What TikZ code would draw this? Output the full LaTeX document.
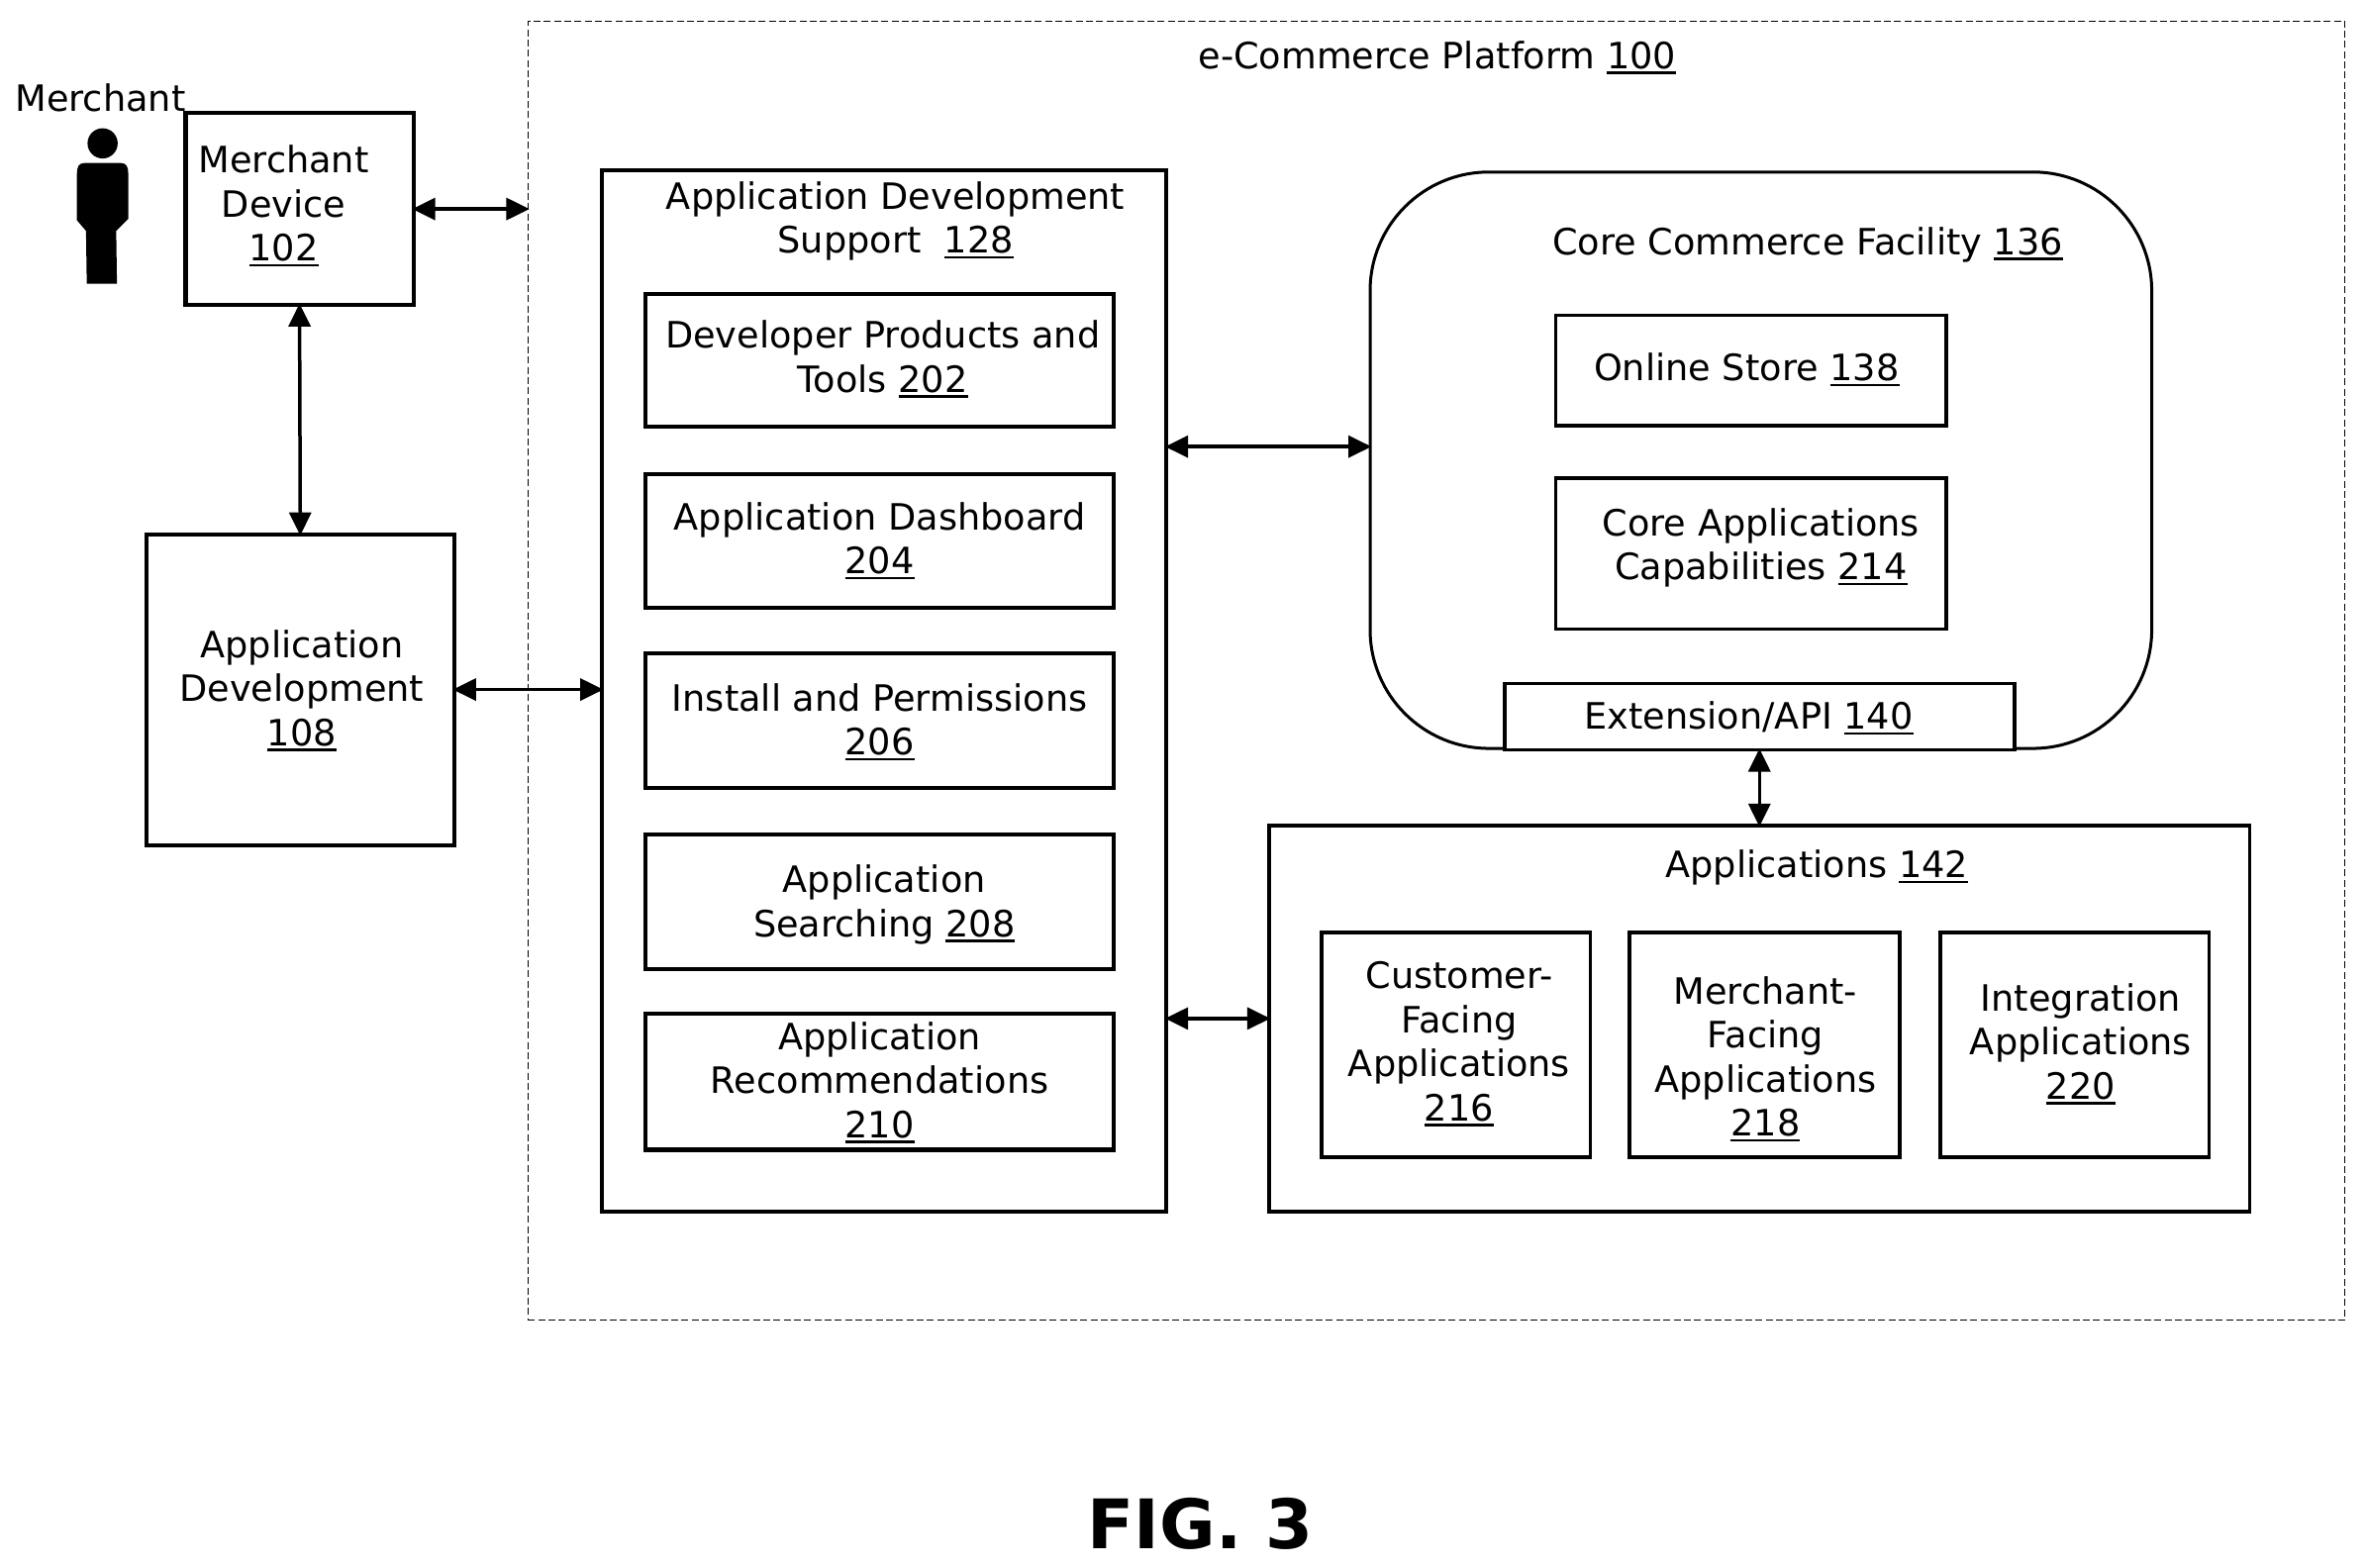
\documentclass[tikz,border=0pt]{standalone}
\usepackage{fontspec}
\setmainfont{DejaVu Sans}
\usetikzlibrary{arrows.meta}
\newcommand\num[1]{\leavevmode\setbox0\hbox{#1}\rlap{\vrule width\wd0 height -0.9pt depth 1.65pt}\box0}
\tikzset{
  x=0.45727pt,y=-0.45727pt,
  boxbase/.style={draw=black,fill=white,inner sep=0pt,outer sep=0pt},
  heavy/.style={boxbase,line width=1.25pt},
  medium/.style={boxbase,line width=1.1pt},
  label/.style={font=\fontsize{11}{13.35}\selectfont,align=center,inner sep=0pt,text=black,yshift=-0.68pt},
  link/.style={line width=1.05pt,shorten <=-0.4pt,shorten >=-0.4pt,{Triangle[length=7pt,width=6.6pt]}-{Triangle[length=7pt,width=6.6pt]}},
}
% name, x1, y1, x2, y2, style
\newcommand\boxat[6]{%
  \pgfmathsetlengthmacro\bw{(#4-#2)*0.45727pt}%
  \pgfmathsetlengthmacro\bh{(#5-#3)*0.45727pt}%
  \pgfmathsetmacro\cx{(#2+#4)/2}%
  \pgfmathsetmacro\cy{(#3+#5)/2}%
  \node[#6,minimum width=\bw,minimum height=\bh] (#1) at (\cx,\cy) {};%
}
\begin{document}
\begin{tikzpicture}
\useasboundingbox (0,0) rectangle (1568,1039.2);
\fill[white] (0,0) rectangle (1568,1039.2);
% platform
\boxat{plat}{350}{14}{1554}{875}{draw=black,line width=0.45pt,dash pattern=on 2.1pt off 1pt,inner sep=0pt,outer sep=0pt}
\node[label] (platT) at (952.5,36.5) {e-Commerce Platform \num{100}};
% merchant
\node[label] (merchT) at (66.5,63.5) {Merchant};
\fill[black] (68,95) circle (10);
\fill[black] (56,108) -- (80,108) .. controls (84,108) and (85,111) .. (85,115)
  -- (85,145) -- (77,153) -- (77.5,188) -- (57.5,188) -- (57,153) -- (51,146) -- (51,115)
  .. controls (51,111) and (52,108) .. (56,108) -- cycle;
\boxat{md}{123}{75}{274}{202}{heavy}
\node[label] (mdT) at (188,135) {Merchant\\Device\\\num{102}};
\boxat{appdev}{97}{354}{301}{560}{heavy}
\node[label] (appdevT) at (200,456) {Application\\Development\\\num{108}};
% support
\boxat{ads}{399}{113}{773}{803}{heavy}
\node[label] (adsT) at (593.5,145) {Application Development\\Support\ \ \num{128}};
\boxat{b202}{428}{195}{738}{283}{heavy}
\node[label] (b202T) at (585,236.5) {Developer Products and\\Tools \num{202}};
\boxat{b204}{428}{314}{738}{403}{heavy}
\node[label] (b204T) at (583,357) {Application Dashboard\\\num{204}};
\boxat{b206}{428}{433}{738}{522}{heavy}
\node[label] (b206T) at (583,477) {Install and Permissions\\\num{206}};
\boxat{b208}{428}{553}{738}{642}{heavy}
\node[label] (b208T) at (586,598) {Application\\Searching \num{208}};
\boxat{b210}{428}{672}{738}{762}{heavy}
\node[label] (b210T) at (583,716) {Application\\Recommendations\\\num{210}};
% core
\boxat{core}{908}{114}{1426}{496}{boxbase,line width=0.9pt,rounded corners=36pt}
\node[label] (coreT) at (1198,160.5) {Core Commerce Facility \num{136}};
\boxat{online}{1031}{209}{1290}{282}{medium}
\node[label] (onlineT) at (1157.5,243.5) {Online Store \num{138}};
\boxat{capab}{1031}{317}{1290}{417}{medium}
\node[label] (capabT) at (1167,361.5) {Core Applications\\Capabilities \num{214}};
\boxat{ext}{997}{453}{1335}{497}{medium}
\node[label] (extT) at (1159,474.5) {Extension/API \num{140}};
% applications
\boxat{apps}{841}{547}{1491}{803}{medium}
\node[label] (appsT) at (1204,573.5) {Applications \num{142}};
\boxat{a216}{876}{618}{1054}{767}{medium}
\node[label] (a216T) at (967,690.5) {Customer-\\Facing\\Applications\\\num{216}};
\boxat{a218}{1080}{618}{1259}{767}{medium}
\node[label] (a218T) at (1170,700.5) {Merchant-\\Facing\\Applications\\\num{218}};
\boxat{a220}{1286}{618}{1464}{767}{medium}
\node[label] (a220T) at (1379,690.5) {Integration\\Applications\\\num{220}};
% connectors
\coordinate (yA) at (840,296);
\coordinate (yB) at (806,675);
\draw[link] (md.east) -- (plat.west |- md.east);
\draw[link] (md.south) -- (appdev.north);
\draw[link] (appdev.east) -- (ads.west |- appdev.east);
\draw[link] (ads.east |- yA) -- (core.west |- yA);
\draw[link] (ads.east |- yB) -- (apps.west |- yB);
\draw[link] (ext.south) -- (apps.north);
% caption
\node[font=\fontsize{20.7}{25}\selectfont\bfseries,inner sep=0pt] (fig) at (795.5,1010) {FIG. 3};
\end{tikzpicture}
\end{document}
